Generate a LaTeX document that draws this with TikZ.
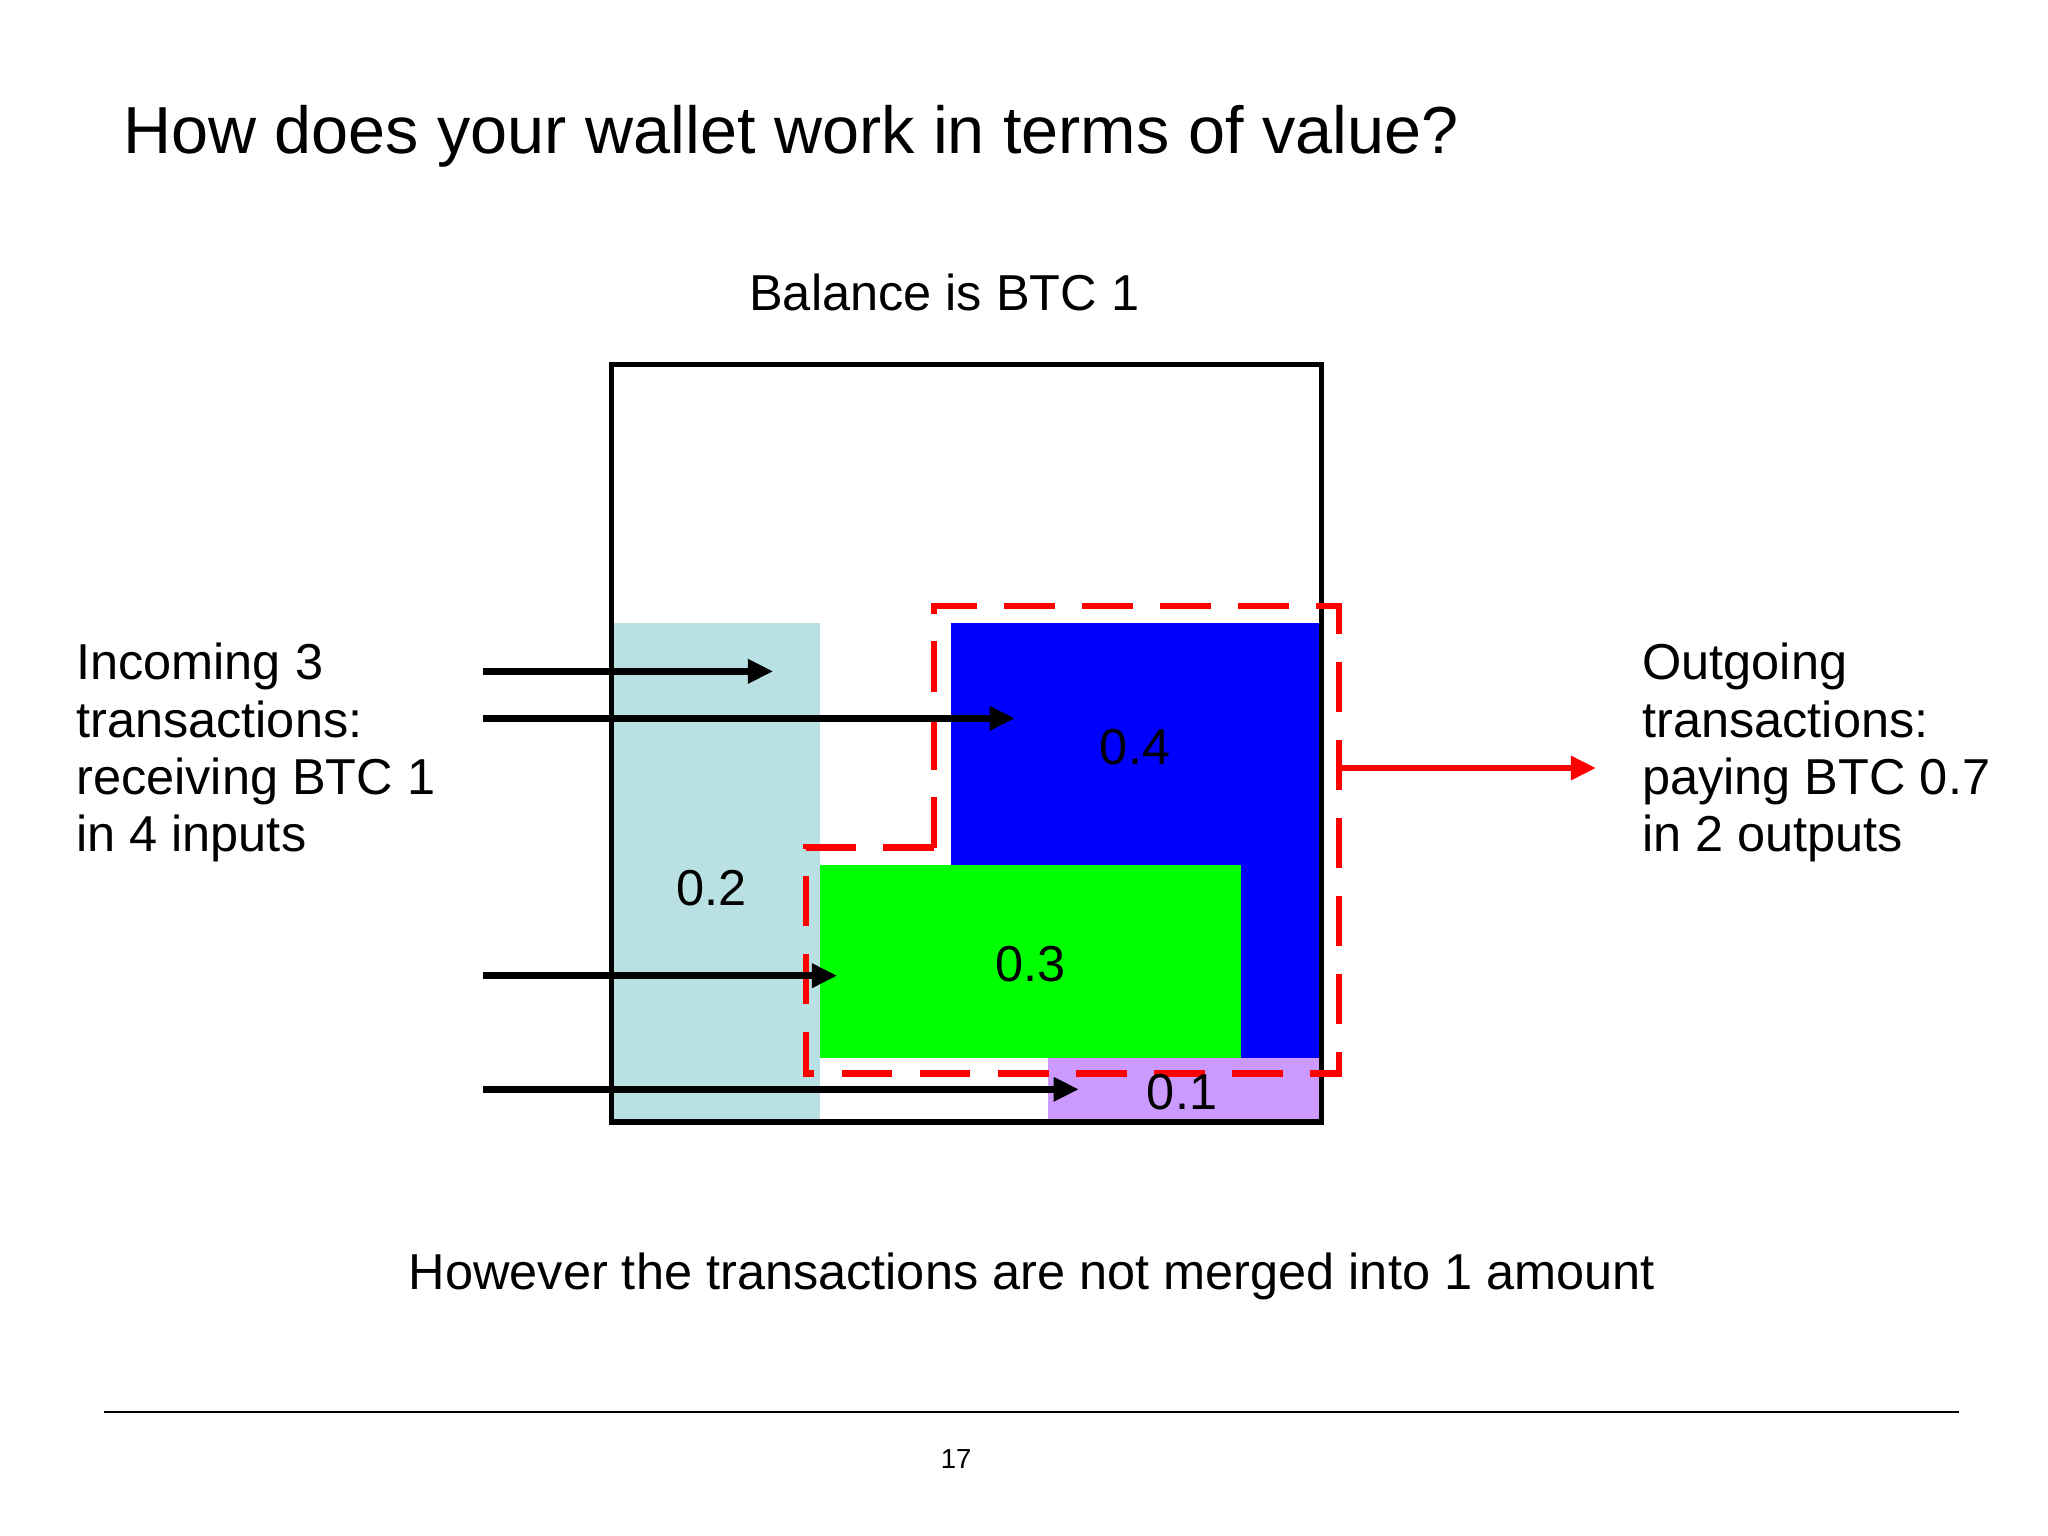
\documentclass[tikz,border=0pt]{standalone}
\usepackage{fontspec}
\setmainfont{Liberation Sans}
\usetikzlibrary{arrows.meta}
\definecolor{lcyan}{HTML}{B9E1E3}
\definecolor{lpurple}{HTML}{CC99FF}
\tikzset{
 px/.style={x=0.02cm,y=-0.02cm},
 lbl/.style={font=\fontsize{22}{26}\selectfont,align=left,anchor=north west,inner sep=0pt},
 val/.style={font=\fontsize{22}{26}\selectfont,inner sep=0pt},
 inarrow/.style={line width=2.8pt,-{Triangle[length=11pt,width=10pt]}},
 outarrow/.style={red,line width=2.8pt,-{Triangle[length=11pt,width=10pt]}},
}
\begin{document}
\begin{tikzpicture}[px]
\useasboundingbox (0,0) rectangle (1568,1176);
\node[anchor=west,inner sep=0pt,font=\fontsize{29}{34}\selectfont] (title) at (94,104) {How does your wallet work in terms of value?};
\node[val] (bal) at (723,224) {Balance is BTC 1};
\fill[lcyan] (470,477) rectangle (628,857);
\fill[blue] (728,477) rectangle (1010,810);
\fill[green] (628,662) rectangle (950,810);
\fill[lpurple] (802,810) rectangle (1010,857);
\draw[line width=2.3pt] (468,279) rectangle (1012,859);
\draw[red,line width=2.8pt,dash pattern=on 22 off 12] (715,649) -- (715,464) -- (1025,464) -- (1025,822) -- (617,822) -- (617,649) -- cycle;
\node[val] (v2) at (545,680) {0.2};
\node[val] (v4) at (869,572) {0.4};
\node[val] (v3) at (789,738) {0.3};
\node[val] (v1) at (905,836) {0.1};
\coordinate (a1s) at (370,514); \coordinate (a1e) at (592,514);
\coordinate (a2s) at (370,550); \coordinate (a2e) at (777,550);
\coordinate (a3s) at (370,747); \coordinate (a3e) at (641,747);
\coordinate (a4s) at (370,834); \coordinate (a4e) at (826,834);
\draw[inarrow] (a1s) -- (a1e);
\draw[inarrow] (a2s) -- (a2e);
\draw[inarrow] (a3s) -- (a3e);
\draw[inarrow] (a4s) -- (a4e);
\coordinate (r1) at (1025,588); \coordinate (r2) at (1222,588);
\draw[outarrow] (r1) -- (r2);
\node[lbl] (inc) at (58,492) {Incoming 3\\[-1pt]transactions:\\[-1pt]receiving BTC 1\\[-1pt]in 4 inputs};
\node[lbl] (out) at (1257,492) {Outgoing\\[-1pt]transactions:\\[-1pt]paying BTC 0.7\\[-1pt]in 2 outputs};
\node[val] (note) at (790,977) {However the transactions are not merged into 1 amount};
\coordinate (l1) at (80,1081); \coordinate (l2) at (1500,1081);
\draw[line width=0.8pt] (l1) -- (l2);
\node[inner sep=0pt,font=\fontsize{12}{14}\selectfont] (pg) at (732,1117) {17};
\end{tikzpicture}
\end{document}
